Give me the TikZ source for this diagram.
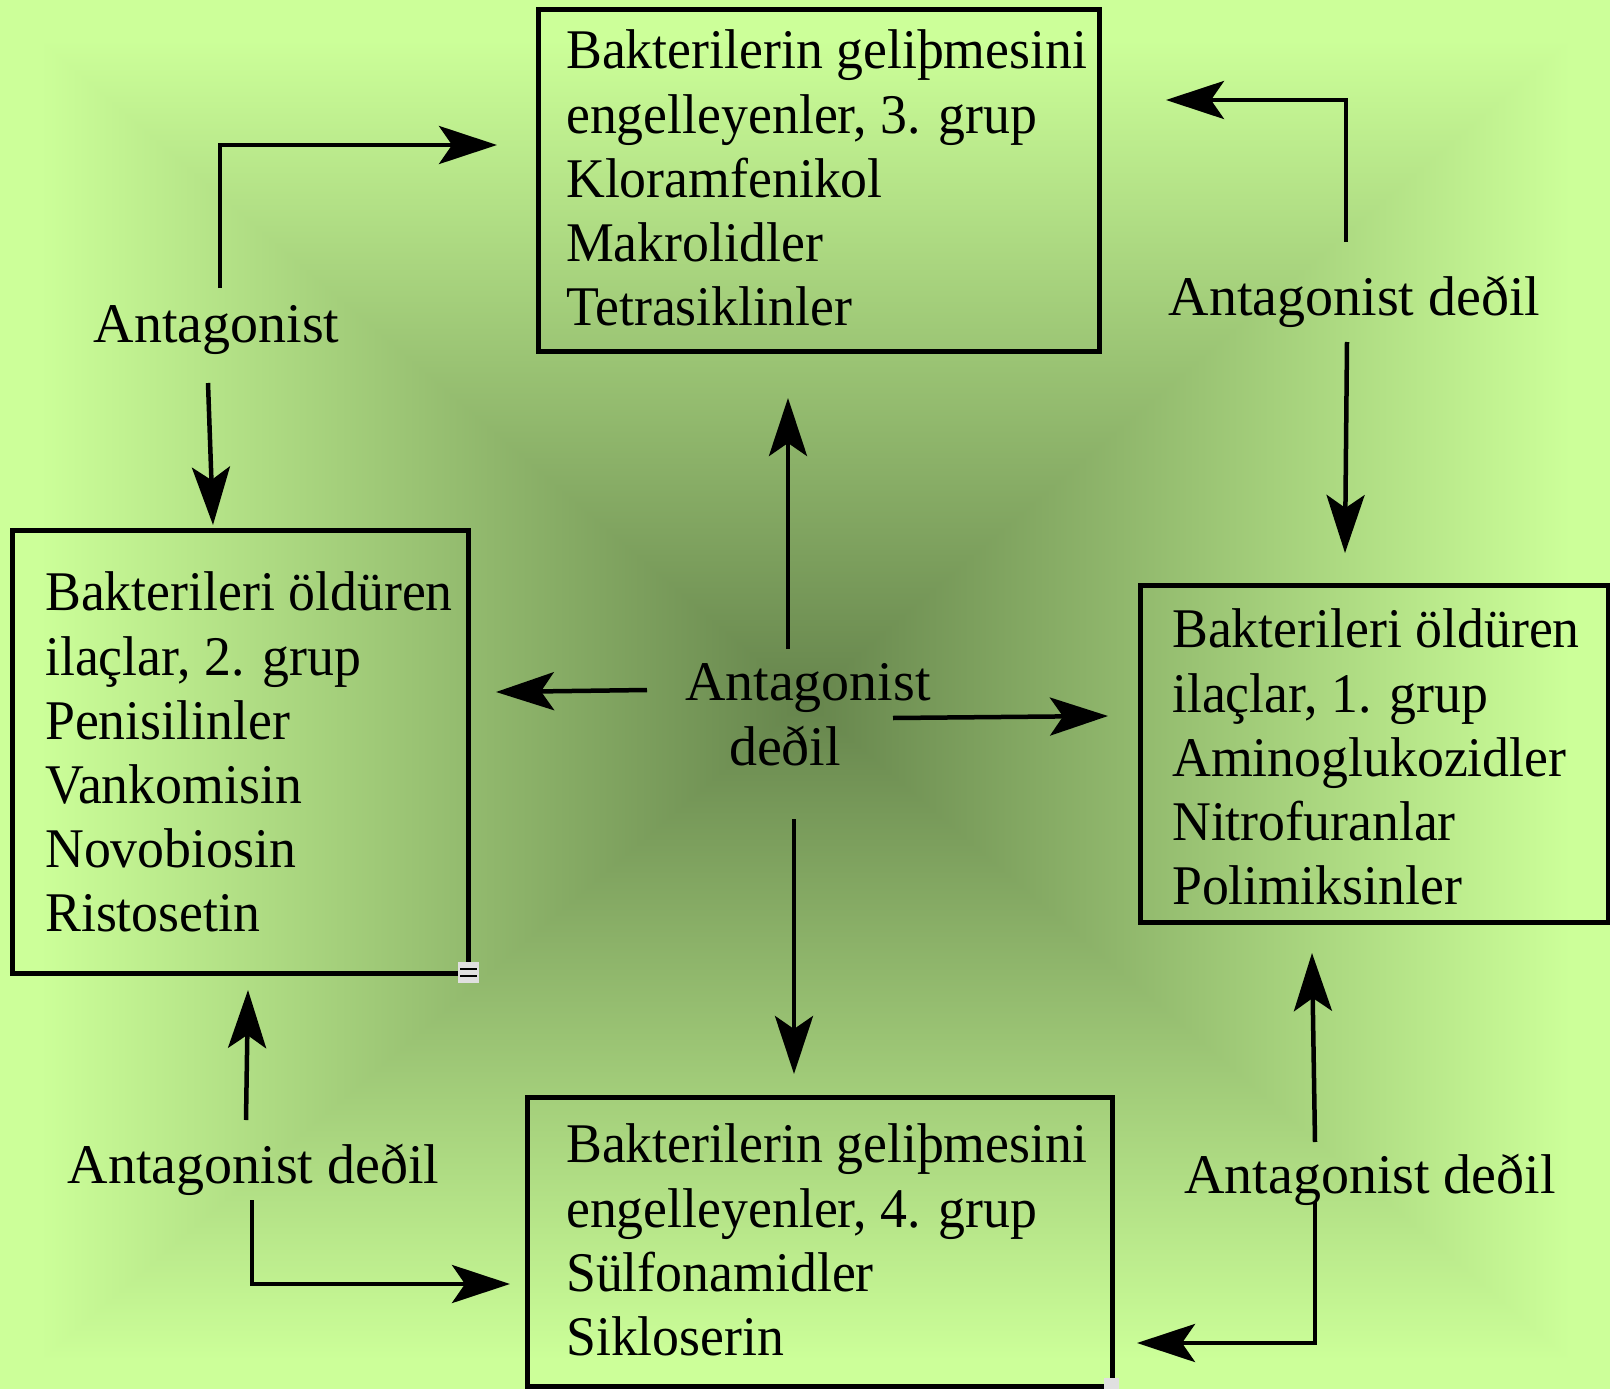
\documentclass[tikz,border=0pt]{standalone}
\usepackage{fontspec}
\setmainfont{Liberation Serif}
\newfontfamily\boxfont[FakeStretch=0.96]{Liberation Serif}
\usetikzlibrary{arrows.meta}
\pgfdeclarefunctionalshading{bgglow}{\pgfpoint{-50bp}{-50bp}}{\pgfpoint{50bp}{50bp}}{}{
  abs exch abs 2 copy lt {exch} if pop 25 div
  dup 1 gt {pop 1} if
  dup 0.40 mul 0.40 add exch
  dup 0.48 mul 0.52 add exch
  0.30 mul 0.30 add
}
\definecolor{bglight}{RGB}{204,255,153}
\tikzset{
 box/.style={draw, line width=5pt, inner sep=0pt},
 boxtext/.style={anchor=north west, inner sep=0pt, align=left, font=\boxfont\fontsize{56}{64.2}\selectfont},
 lbl/.style={anchor=base, inner sep=0pt, font=\fontsize{56}{65}\selectfont},
 arr/.style={line width=4.5pt, -{Stealth[length=58pt,width=38pt,inset=13pt]}},
 handle/.style={fill=black!12},
}
\begin{document}
\begin{tikzpicture}[x=1pt,y=-1pt]
\useasboundingbox (0,0) rectangle (1610,1389);
\fill[bglight] (0,0) rectangle (1610,1389);
\path[shading=bgglow] (40,40) rectangle (1570,1360);

% boxes
\node[box, minimum width=561pt, minimum height=341pt] (top) at (818.5,180.5) {};
\node[box, minimum width=456pt, minimum height=443pt] (left) at (240,751.5) {};
\node[box, minimum width=468pt, minimum height=337pt] (right) at (1374,753.5) {};
\node[box, minimum width=585pt, minimum height=289pt] (bottom) at (819.5,1241.5) {};

% box texts
\node[boxtext] (toptext) at (566,29.75) {Bakterilerin geliþmesini\\engelleyenler, 3. grup\\Kloramfenikol\\Makrolidler\\Tetrasiklinler};
\node[boxtext] (lefttext) at (45,571.75) {Bakterileri öldüren\\ilaçlar, 2. grup\\Penisilinler\\Vankomisin\\Novobiosin\\Ristosetin};
\node[boxtext] (righttext) at (1172,608.75) {Bakterileri öldüren\\ilaçlar, 1. grup\\Aminoglukozidler\\Nitrofuranlar\\Polimiksinler};
\node[boxtext] (bottomtext) at (566,1123.75) {Bakterilerin geliþmesini\\engelleyenler, 4. grup\\Sülfonamidler\\Sikloserin};

% labels
\node[lbl] (ltl) at (216.5,342) {Antagonist};
\node[lbl] (ltr) at (1354.5,315) {Antagonist deðil};
\node[lbl] (lbl) at (253.5,1183) {Antagonist deðil};
\node[lbl] (lbr) at (1370,1193) {Antagonist deðil};
\node[lbl] (lc1) at (808,700) {Antagonist};
\node[lbl] (lc2) at (785,765) {deðil};

% connector coordinates
\coordinate (a1s) at (220,288);  \coordinate (a1e) at (497,145);
\coordinate (a2s) at (208,383);  \coordinate (a2e) at (213,525);
\coordinate (a3s) at (1346,242); \coordinate (a3e) at (1166,100);
\coordinate (a4s) at (1347,342); \coordinate (a4e) at (1345,553);
\coordinate (a5s) at (246,1120); \coordinate (a5e) at (248,990);
\coordinate (a6s) at (252,1200); \coordinate (a6e) at (510,1284);
\coordinate (a7s) at (1315,1142);\coordinate (a7e) at (1312,953);
\coordinate (a8s) at (1315,1202);\coordinate (a8e) at (1137,1343);
\coordinate (cus) at (788,649);  \coordinate (cue) at (788,398);
\coordinate (cls) at (647,690);  \coordinate (cle) at (496,692);
\coordinate (crs) at (893,718);  \coordinate (cre) at (1108,716);
\coordinate (cds) at (794,819);  \coordinate (cde) at (794,1074);

% connectors
\draw[arr] (a1s) |- (a1e);
\draw[arr] (a2s) -- (a2e);
\draw[arr] (a3s) |- (a3e);
\draw[arr] (a4s) -- (a4e);
\draw[arr] (a5s) -- (a5e);
\draw[arr] (a6s) |- (a6e);
\draw[arr] (a7s) -- (a7e);
\draw[arr] (a8s) |- (a8e);
\draw[arr] (cus) -- (cue);
\draw[arr] (cls) -- (cle);
\draw[arr] (crs) -- (cre);
\draw[arr] (cds) -- (cde);

% small selection handles
\fill[handle] (458,962) rectangle (479,983);
\draw[line width=2pt] (460,969) -- (477,969) (460,976) -- (477,976);
\fill[handle] (1104,1378) rectangle (1119,1389);
\end{tikzpicture}
\end{document}
